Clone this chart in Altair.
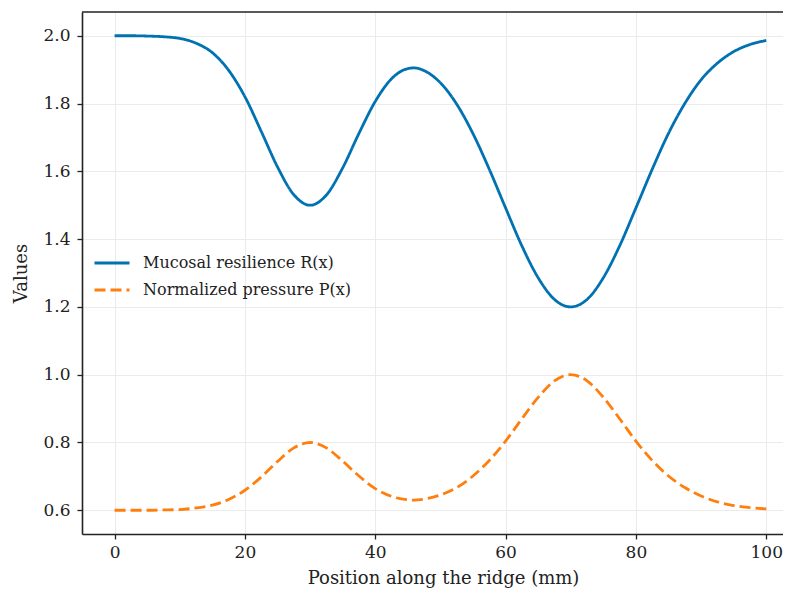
import altair as alt
import pandas as pd

x_mm = [0, 2.5, 5, 7.5, 10, 12.5, 15, 17.5, 20, 22.5, 25, 27.5, 30, 32.5, 35, 37.5,
        40, 42.5, 45, 46, 47.5, 50, 52.5, 55, 57.5, 60, 62.5, 65, 67.5, 70, 72.5,
        75, 77.5, 80, 82.5, 85, 87.5, 90, 92.5, 95, 97.5, 100]
resilience = [2.000, 2.000, 1.999, 1.997, 1.992, 1.978, 1.950, 1.898, 1.820, 1.718,
              1.613, 1.531, 1.500, 1.530, 1.610, 1.712, 1.806, 1.873, 1.903, 1.905,
              1.897, 1.861, 1.798, 1.711, 1.606, 1.492, 1.380, 1.286, 1.222, 1.200,
              1.222, 1.286, 1.380, 1.492, 1.606, 1.712, 1.800, 1.870, 1.919, 1.953,
              1.974, 1.986]
pressure = [0.600, 0.600, 0.600, 0.601, 0.602, 0.607, 0.615, 0.632, 0.659, 0.698,
            0.744, 0.784, 0.800, 0.784, 0.745, 0.701, 0.664, 0.641, 0.631, 0.630,
            0.633, 0.645, 0.667, 0.701, 0.747, 0.804, 0.870, 0.933, 0.982, 1.000,
            0.982, 0.933, 0.870, 0.804, 0.747, 0.701, 0.667, 0.642, 0.625, 0.614,
            0.608, 0.604]
series_names = ["Mucosal resilience R(x)", "Normalized pressure P(x)"]
x_ticks = [0, 20, 40, 60, 80, 100]
y_ticks = [0.6, 0.8, 1.0, 1.2, 1.4, 1.6, 1.8, 2.0]

rows = []
for xv, rv in zip(x_mm, resilience):
    rows.append({"x": xv, "value": rv, "series": series_names[0]})
for xv, pv in zip(x_mm, pressure):
    rows.append({"x": xv, "value": pv, "series": series_names[1]})
df = pd.DataFrame(rows)

W, H = 701, 522
PAD_L, PAD_T = 74, 4
SVG_W, SVG_H = 775, 580
FONT = "DejaVu Serif"

lines = alt.Chart(df).mark_line(strokeWidth=2.8, interpolate="monotone").encode(
    x=alt.X("x:Q", title="Position along the ridge (mm)",
            scale=alt.Scale(domain=[-5, 102.57], nice=False, zero=False),
            axis=alt.Axis(values=x_ticks, format="d", labelPadding=5,
                          titleX=361, titleY=49, titleBaseline="alphabetic")),
    y=alt.Y("value:Q", title="Values",
            scale=alt.Scale(domain=[0.53, 2.07], nice=False, zero=False),
            axis=alt.Axis(values=y_ticks, format=".1f", labelPadding=7, titlePadding=12)),
    color=alt.Color("series:N", title=None,
                    scale=alt.Scale(domain=series_names, range=["#0072B2", "#FF7F0E"]),
                    legend=alt.Legend(orient="none", legendX=11, legendY=232)),
    strokeDash=alt.StrokeDash("series:N", title=None,
                              scale=alt.Scale(domain=series_names, range=[[1, 0], [11, 5]]),
                              legend=alt.Legend(orient="none", legendX=11, legendY=232)),
)

top_spine = alt.Chart(pd.DataFrame({"k": [0]})).mark_rule(color="#222222", strokeWidth=1.6).encode(
    x=alt.value(0), x2=alt.value(W), y=alt.value(0)
)

chart = alt.layer(lines, top_spine).properties(
    width=W, height=H,
    autosize=alt.AutoSizeParams(type="none"),
    padding={"left": PAD_L, "top": PAD_T, "right": SVG_W - PAD_L - W,
             "bottom": SVG_H - PAD_T - H},
).configure_view(stroke="transparent", strokeWidth=0).configure_axis(
    labelFont=FONT, titleFont=FONT, labelFontSize=17, titleFontSize=18,
    labelColor="#222222", titleColor="#222222", titleFontWeight="normal",
    domainColor="#222222", domainWidth=1.6, tickColor="#222222", tickWidth=1.3,
    tickSize=5, gridColor="#ebebeb", gridWidth=1,
).configure_legend(
    labelFont=FONT, labelFontSize=16, labelColor="#222222", symbolType="stroke",
    symbolSize=1225, symbolStrokeWidth=2.8, labelOffset=12, rowPadding=-10, padding=0,
    labelLimit=400,
)

chart.save("out.html", embed_options={"renderer": "svg", "actions": False})
